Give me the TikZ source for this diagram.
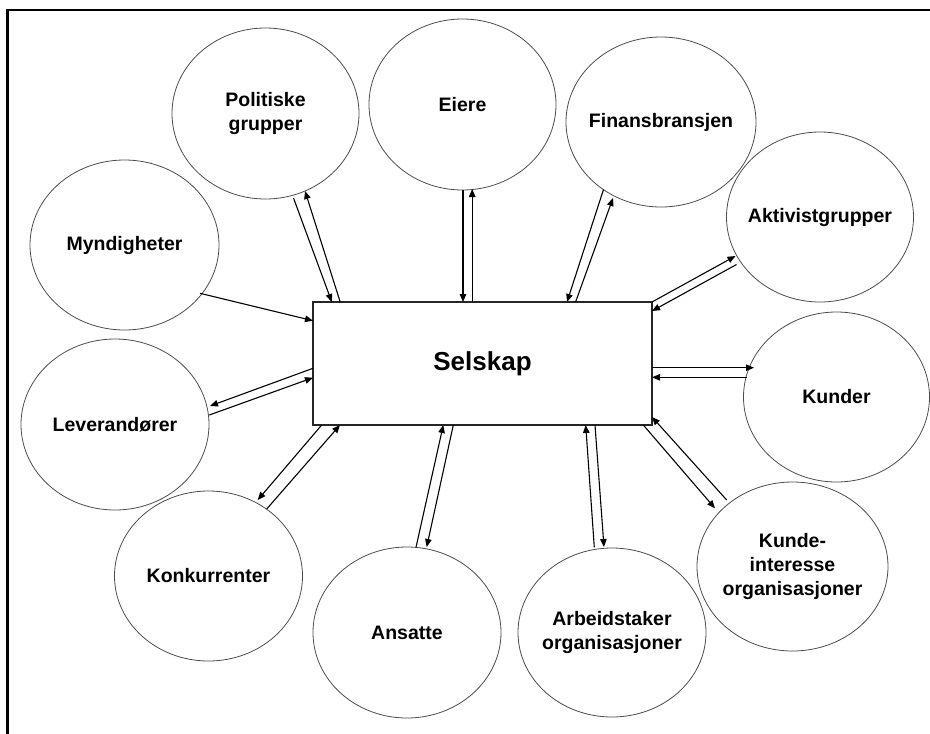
\documentclass[tikz,border=0pt]{standalone}
\usepackage{fontspec}
\setmainfont{Liberation Sans}
\usetikzlibrary{arrows.meta,shapes.geometric}
\tikzset{
  ell/.style={ellipse, draw=black!70, line width=0.8pt, inner sep=0pt},
  lbl/.style={font=\bfseries\fontsize{19.5}{24}\selectfont, align=center, inner sep=0pt},
  arr/.style={-{Triangle[length=8pt,width=6.5pt]}, line width=1.1pt},
  frame/.style={line width=2.3pt}
}
\begin{document}
\begin{tikzpicture}[x=1pt,y=-1pt]
\useasboundingbox (0,0) rectangle (930,734);
\coordinate (fa) at (7.5,734);
\coordinate (fb) at (7.5,10);
\coordinate (fc) at (930,10);
\draw[frame] (fa) -- (fb) -- (fc);

\node[draw=black!85, line width=1.1pt, minimum width=339pt, minimum height=123pt, inner sep=0pt,
      font=\bfseries\fontsize{26}{30}\selectfont] (sel) at (482.5,363.5) {Selskap};

\node[ell, minimum width=187pt, minimum height=171pt, label={[lbl]center:{Politiske\\grupper}}] (pol) at (265.5,113.5) {};
\node[ell, minimum width=187pt, minimum height=171pt, label={[lbl]center:{Eiere}}] (eie) at (462.5,104.5) {};
\node[ell, minimum width=190pt, minimum height=170pt, label={[lbl]center:{Finansbransjen}}] (fin) at (661,122) {};
\node[ell, minimum width=187pt, minimum height=170pt, label={[lbl]center:{Aktivistgrupper}}] (akt) at (820,217) {};
\node[ell, minimum width=186pt, minimum height=170pt, label={[lbl]center:{Kunder}}] (kun) at (836.5,397) {};
\node[ell, minimum width=191pt, minimum height=169pt, label={[lbl]center:{Kunde-\\interesse\\organisasjoner}}] (ki) at (792.5,566.5) {};
\node[ell, minimum width=188pt, minimum height=169pt, label={[lbl]center:{Arbeidstaker\\organisasjoner}}] (arb) at (612,632.5) {};
\node[ell, minimum width=188pt, minimum height=171pt, label={[lbl]center:{Ansatte}}] (ans) at (407,632.5) {};
\node[ell, minimum width=188pt, minimum height=170pt, label={[lbl]center:{Konkurrenter}}] (kon) at (208.5,576) {};
\node[ell, minimum width=188pt, minimum height=171pt, label={[lbl]center:{Leverand\o rer}}] (lev) at (115,424.5) {};
\node[ell, minimum width=189pt, minimum height=170pt, label={[lbl]center:{Myndigheter}}] (myn) at (124.5,245) {};

% Politiske grupper
\draw[arr] ([shift={(28,84.5)}]pol.center) -- ([shift={(-150.7,-61.5)}]sel.center);
\draw[arr] ([shift={(-142.3,-61.5)}]sel.center) -- ([shift={(39.5,77.5)}]pol.center);
% Eiere
\draw[arr] ([shift={(0.5,85.5)}]eie.center) -- ([shift={(-19.5,-61.5)}]sel.center);
\draw[arr] ([shift={(-10.3,-61.5)}]sel.center) -- ([shift={(9.7,84.5)}]eie.center);
% Finansbransjen
\draw[arr] ([shift={(-57.5,67.5)}]fin.center) -- ([shift={(84.5,-61.5)}]sel.center);
\draw[arr] ([shift={(93.1,-61.5)}]sel.center) -- ([shift={(-48,76)}]fin.center);
% Aktivistgrupper
\draw[arr] ([shift={(169.5,-61.5)}]sel.center) -- ([shift={(-84.5,39)}]akt.center);
\draw[arr] ([shift={(-83.5,47.5)}]akt.center) -- ([shift={(169.5,-52.5)}]sel.center);
% Kunder
\draw[arr] ([shift={(169.5,4.2)}]sel.center) -- ([shift={(-82.5,-29.3)}]kun.center);
\draw[arr] ([shift={(-89.8,-19.7)}]kun.center) -- ([shift={(169.5,13.8)}]sel.center);
% Kunde-interesse organisasjoner
\draw[arr] ([shift={(160.8,61.5)}]sel.center) -- ([shift={(-77.5,-58.2)}]ki.center);
\draw[arr] ([shift={(-65.8,-66.5)}]ki.center) -- ([shift={(169.5,53.5)}]sel.center);
% Arbeidstaker organisasjoner
\draw[arr] ([shift={(-17.7,-85.2)}]arb.center) -- ([shift={(103.2,61.5)}]sel.center);
\draw[arr] ([shift={(112.5,61.5)}]sel.center) -- ([shift={(-8,-85.5)}]arb.center);
% Ansatte
\draw[arr] ([shift={(9,-85.2)}]ans.center) -- ([shift={(-39.2,61.5)}]sel.center);
\draw[arr] ([shift={(-29.2,61.5)}]sel.center) -- ([shift={(19.7,-85.5)}]ans.center);
% Konkurrenter
\draw[arr] ([shift={(-160.8,61.5)}]sel.center) -- ([shift={(49.2,-76)}]kon.center);
\draw[arr] ([shift={(58.2,-67)}]kon.center) -- ([shift={(-142.5,61.5)}]sel.center);
% Leverandorer
\draw[arr] ([shift={(-169.5,4.8)}]sel.center) -- ([shift={(95,-18.5)}]lev.center);
\draw[arr] ([shift={(94.3,-9.5)}]lev.center) -- ([shift={(-169.5,14.2)}]sel.center);
% Myndigheter
\draw[arr] ([shift={(75.5,48.3)}]myn.center) -- ([shift={(-169.5,-42.8)}]sel.center);
\end{tikzpicture}
\end{document}
